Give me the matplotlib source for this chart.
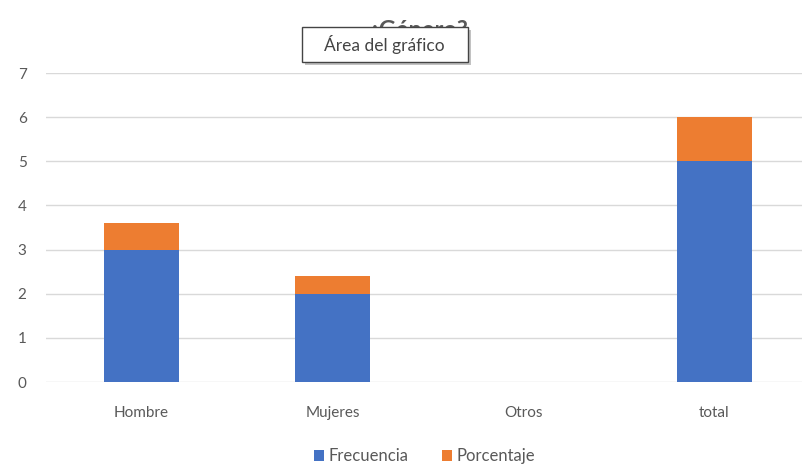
import matplotlib.pyplot as plt
from matplotlib.patches import Rectangle

categorias = ["Hombre", "Mujeres", "Otros", "total"]
frecuencia = [3, 2, 0, 5]
porcentaje = [0.6, 0.4, 0, 1]

azul = "#4472C4"
naranja = "#ED7D31"
gris = "#595959"

plt.rcParams['font.family'] = ['Lato', 'DejaVu Sans']

fig = plt.figure(figsize=(8.03, 4.65), dpi=100)
ax = fig.add_axes([46 / 803, 83 / 465, 757 / 803, 309 / 465])

x = range(len(categorias))
ax.bar(x, frecuencia, width=0.39, color=azul, zorder=3)
ax.bar(x, porcentaje, width=0.39, bottom=frecuencia, color=naranja, zorder=3)

ax.set_xlim(-0.5, 3.5 - 7 / 191)
ax.set_ylim(0, 7)
ax.set_yticks(range(8))
ax.set_xticks(list(x))
ax.set_xticklabels(categorias)
ax.grid(axis="y", color="#D9D9D9", linewidth=1, zorder=0)
for s in ax.spines.values():
    s.set_visible(False)
ax.tick_params(length=0, labelsize=11, labelcolor=gris)
ax.tick_params(axis="y", pad=14)
ax.tick_params(axis="x", pad=17)

# titulo
fig.text(418 / 803, 1 - 30 / 465, "¿Género?", ha="center", va="center",
         fontsize=17, fontweight="bold", color=gris)

# recuadro emergente sobre el titulo
sombra = Rectangle((305 / 803, 1 - 65 / 465), 166 / 803, 35 / 465,
                   transform=fig.transFigure, facecolor="#9a9a9a",
                   edgecolor="none", zorder=9, alpha=0.6)
caja = Rectangle((302 / 803, 1 - 62 / 465), 166 / 803, 35 / 465,
                 transform=fig.transFigure, facecolor="white",
                 edgecolor="#444444", linewidth=1, zorder=10)
fig.add_artist(sombra)
fig.add_artist(caja)
fig.text(384 / 803, 1 - 44 / 465, "Área del gráfico", ha="center", va="center",
         fontsize=12.5, color="#444444", zorder=11)

# leyenda
leg = ax.legend(["Frecuencia", "Porcentaje"], loc="center",
                bbox_to_anchor=(0.5, -0.24), ncol=2, frameon=False,
                fontsize=12, handlelength=0.6, handleheight=0.6,
                handletextpad=0.3, columnspacing=2.0)
for t in leg.get_texts():
    t.set_color(gris)

fig.savefig("out.png", dpi=100)
